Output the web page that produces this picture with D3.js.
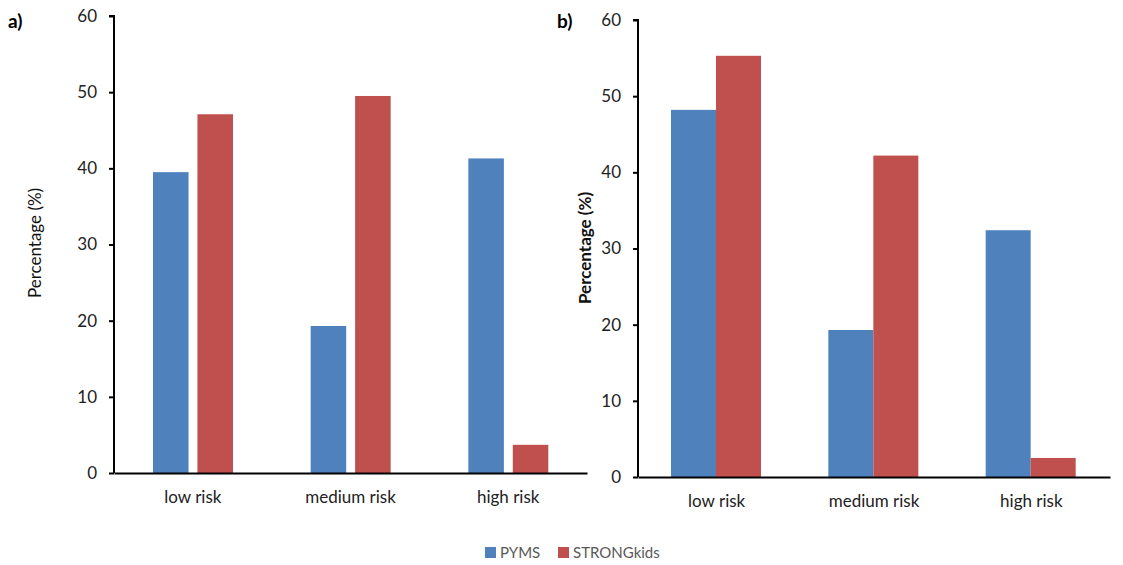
<!DOCTYPE html>
<html>
<head>
<meta charset="utf-8">
<script src="https://cdn.jsdelivr.net/npm/d3@7"></script>
<style>
  body { margin: 0; background: #fff; }
  svg text { font-family: Lato, "Open Sans", sans-serif; }
</style>
</head>
<body>
<div id="chart"></div>
<script>
// data
var categories = ["low risk", "medium risk", "high risk"];
var seriesNames = ["PYMS", "STRONGkids"];
var pymsA = [39.5, 19.3, 41.3];
var strongA = [47.1, 49.5, 3.7];
var pymsB = [48.2, 19.3, 32.4];
var strongB = [55.3, 42.2, 2.5];
var yTicks = [0, 10, 20, 30, 40, 50, 60];

var colors = ["#4F81BD", "#C0504D"];

var svg = d3.select("#chart").append("svg")
  .attr("width", 1123).attr("height", 565);

// draw one panel
function drawPanel(opts) {
  var g = svg.append("g")
    .attr("transform", `translate(${opts.left}, ${opts.top})`);

  var xScale = d3.scaleBand()
    .domain(categories)
    .range([0, opts.width]);

  var yScale = d3.scaleLinear()
    .domain([0, 60])
    .range([opts.height, 0]);

  var inner = d3.scaleBand()
    .domain(seriesNames)
    .range([opts.innerStart, opts.innerEnd])
    .paddingInner(opts.gap);

  var rows = [];
  categories.forEach(function(c, i) {
    rows.push({cat: c, name: "PYMS", value: opts.pyms[i]});
    rows.push({cat: c, name: "STRONGkids", value: opts.strong[i]});
  });

  g.selectAll("rect.bar")
    .data(rows)
    .enter()
    .append("rect")
    .classed("bar", true)
    .attr("x", d => xScale(d.cat) + inner(d.name))
    .attr("width", inner.bandwidth())
    .attr("y", d => yScale(d.value))
    .attr("height", d => opts.height - yScale(d.value))
    .attr("fill", d => colors[seriesNames.indexOf(d.name)]);

  // y axis
  var leftAxis = d3.axisLeft(yScale).tickValues(yTicks).tickSize(5).tickPadding(12);
  var yAxis = g.append("g").call(leftAxis);
  yAxis.select(".domain").attr("d", `M0,${opts.height}V0H-5M0,0`).attr("stroke-width", 2);
  yAxis.selectAll(".tick line").attr("stroke-width", 2);
  yAxis.selectAll("text")
    .attr("font-size", "17px")
    .attr("fill", "#222");

  // x axis
  var bottomAxis = d3.axisBottom(xScale).tickSize(0).tickPadding(18);
  var xAxis = g.append("g")
    .attr("transform", `translate(0, ${opts.height})`)
    .call(bottomAxis);
  xAxis.select(".domain").attr("stroke-width", 2);
  xAxis.selectAll("text")
    .attr("font-size", "17px")
    .attr("fill", "#222");

  // y label
  g.append("text")
    .attr("transform", `translate(${opts.labelX}, ${opts.labelY}) rotate(-90)`)
    .attr("text-anchor", "middle")
    .attr("font-size", "17px")
    .attr("font-weight", opts.labelBold ? "bold" : "normal")
    .attr("fill", "#111")
    .text("Percentage (%)");

  // panel letter
  svg.append("text")
    .attr("x", opts.letterX)
    .attr("y", opts.letterY)
    .attr("font-size", "19px")
    .attr("font-weight", "bold")
    .text(opts.letter);
}

drawPanel({
  left: 114, top: 16, width: 473, height: 457,
  pyms: pymsA, strong: strongA,
  innerStart: 39, innerEnd: 119, gap: 0.2,
  labelX: -73, labelY: 227, labelBold: false,
  letter: "a)", letterX: 8, letterY: 28
});

drawPanel({
  left: 638, top: 20, width: 472, height: 457,
  pyms: pymsB, strong: strongB,
  innerStart: 33, innerEnd: 123, gap: 0,
  labelX: -47, labelY: 228, labelBold: true,
  letter: "b)", letterX: 557, letterY: 28
});

// legend
var legend = svg.append("g").attr("transform", "translate(485, 547)");
seriesNames.forEach(function(name, i) {
  var item = legend.append("g").attr("transform", `translate(${i * 73}, 0)`);
  item.append("rect")
    .attr("width", 11).attr("height", 11)
    .attr("fill", colors[i]);
  item.append("text")
    .attr("x", 15).attr("y", 11)
    .attr("font-size", "15px")
    .attr("fill", "#595959")
    .text(name);
});
</script>
</body>
</html>
